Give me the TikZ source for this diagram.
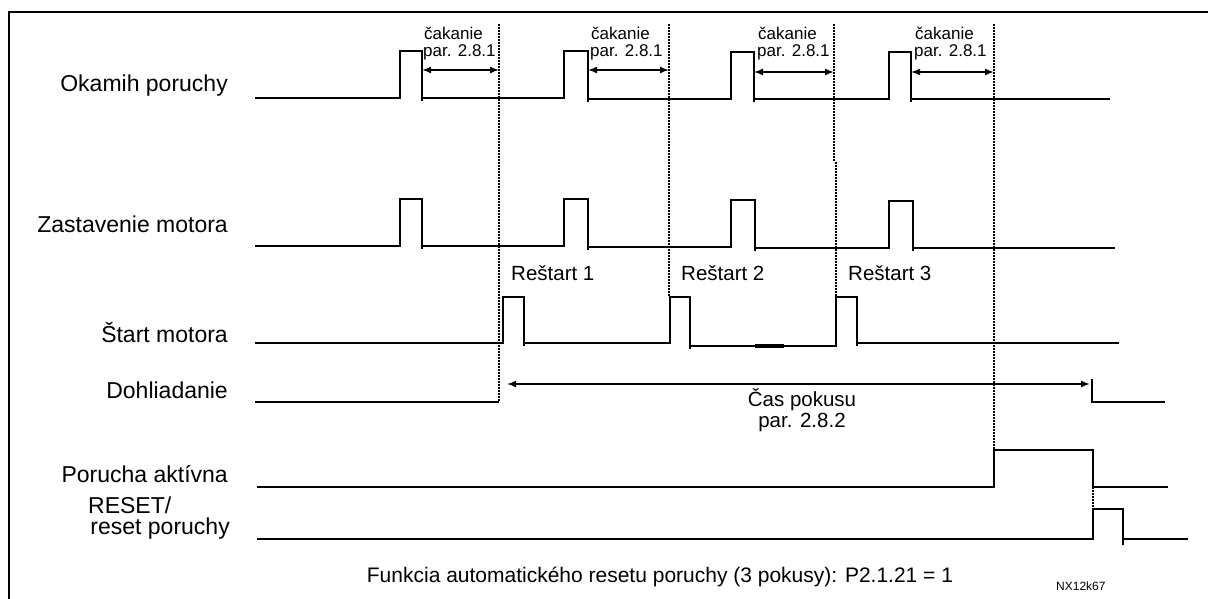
\documentclass[tikz,border=0pt]{standalone}
\usepackage{fontspec}
\setmainfont{Liberation Sans}
\usetikzlibrary{arrows.meta}
\begin{document}
\begin{tikzpicture}[x=1pt,y=-1pt,
  sig/.style={line width=2pt, line join=miter},
  tick/.style={line width=2pt},
  guide/.style={line width=1.3pt, dash pattern=on 2pt off 1pt},
  frame/.style={line width=2.2pt},
  span/.style={line width=1.6pt, {Latex[length=9pt,width=7pt]}-{Latex[length=9pt,width=7pt]}},
  lab/.style={font=\fontsize{23}{24}\selectfont, inner sep=0pt},
  small/.style={font=\fontsize{17}{17}\selectfont, inner sep=0pt},
  mid/.style={font=\fontsize{20.5}{21}\selectfont, inner sep=0pt},
  foot/.style={font=\fontsize{21}{22}\selectfont, inner sep=0pt},
  tiny/.style={font=\fontsize{12}{12}\selectfont, inner sep=0pt}]
\useasboundingbox (0,0) rectangle (1208,599);

% frame
\draw[frame] (1208,12) -- (9,12) -- (9,599);

% labels
\node[lab, anchor=base east] (lOk) at (228,92) {Okamih poruchy};
\node[lab, anchor=base east] (lZa) at (228,232) {Zastavenie motora};
\node[lab, anchor=base east] (lSt) at (228,342) {Štart motora};
\node[lab, anchor=base east] (lDo) at (228,398) {Dohliadanie};
\node[lab, anchor=base east] (lPo) at (228,482) {Porucha aktívna};
\node[lab, anchor=base west] (lRe1) at (88,513) {RESET/};
\node[lab, anchor=base east] (lRe2) at (230,534) {reset poruchy};

% guide lines (dashed)
\coordinate (g1t) at (499,24);  \coordinate (g1b) at (499,402);
\coordinate (g2t) at (669,24);  \coordinate (g2b) at (669,297);
\coordinate (g3t) at (834,24);  \coordinate (g3m) at (834,162);
\coordinate (g3n) at (836,162); \coordinate (g3b) at (836,297);
\coordinate (g4t) at (994,24);  \coordinate (g4b) at (994,450);
\coordinate (g5t) at (1093,487); \coordinate (g5b) at (1093,509);
\draw[guide] (g1t) -- (g1b);
\draw[guide] (g2t) -- (g2b);
\draw[guide] (g3t) -- (g3m);
\draw[guide] (g3n) -- (g3b);
\draw[guide] (g4t) -- (g4b);
\draw[guide] (g5t) -- (g5b);

% Okamih poruchy
\draw[sig] (255,98) -- (400,98) -- (400,51) -- (422,51) -- (422,98)
  -- (564,98) -- (564,51) -- (588,51) -- (588,99)
  -- (731,99) -- (731,52) -- (754,52) -- (754,99)
  -- (889,99) -- (889,52) -- (911,52) -- (911,99) -- (1110,99);
\foreach \x/\y in {422/98,588/99,754/99,911/99} \draw[tick] (\x,\y) -- (\x,\y+3);

% waiting arrows
\coordinate (w1a) at (422,70); \coordinate (w1b) at (499,70);
\coordinate (w2a) at (588,70); \coordinate (w2b) at (669,70);
\coordinate (w3a) at (754,72); \coordinate (w3b) at (834,72);
\coordinate (w4a) at (911,72); \coordinate (w4b) at (994,72);
\draw[span] (w1a) -- (w1b);
\draw[span] (w2a) -- (w2b);
\draw[span] (w3a) -- (w3b);
\draw[span] (w4a) -- (w4b);
\foreach \x/\n in {423/1,590/2,757/3,914/4}{
  \node[small, anchor=base west] (wa\n) at (\x+1,40) {čakanie};
  \node[small, anchor=base west] (wb\n) at (\x,57) {par. 2.8.1};
}

% Zastavenie motora
\draw[sig] (255,246) -- (400,246) -- (400,199) -- (422,199) -- (422,246)
  -- (564,246) -- (564,199) -- (588,199) -- (588,247)
  -- (731,247) -- (731,200) -- (755,200) -- (755,248)
  -- (889,248) -- (889,201) -- (913,201) -- (913,248) -- (1115,248);
\foreach \x/\y in {422/246,588/247,755/248,913/248} \draw[tick] (\x,\y) -- (\x,\y+3);

% Restart labels
\node[mid, anchor=base west] (r1) at (511,280) {Reštart 1};
\node[mid, anchor=base west] (r2) at (681,280) {Reštart 2};
\node[mid, anchor=base west] (r3) at (848,280) {Reštart 3};

% Start motora
\draw[sig] (255,343) -- (503,343) -- (503,297) -- (524,297) -- (524,343)
  -- (670,343) -- (670,297) -- (690,297) -- (690,346)
  -- (836,346) -- (836,297) -- (857,297) -- (857,343) -- (1119,343);
\foreach \x/\y in {524/343,690/346,857/343} \draw[tick] (\x,\y) -- (\x,\y+3);
\draw[line width=3.6pt] (755,346) -- (784,346);

% Dohliadanie
\draw[sig] (255,402) -- (499,402);
\coordinate (c1) at (507,384); \coordinate (c2) at (1090,384);
\draw[span] (c1) -- (c2);
\draw[sig] (1092,379) -- (1092,402) -- (1165,402);
\node[mid, anchor=base] (cas1) at (802,406) {Čas pokusu};
\node[mid, anchor=base] (cas2) at (802,427) {par. 2.8.2};

% Porucha aktivna
\draw[sig] (257,487) -- (994,487) -- (994,450) -- (1093,450) -- (1093,487) -- (1168,487);

% RESET
\draw[sig] (257,539) -- (1093,539) -- (1093,509) -- (1123,509) -- (1123,539) -- (1188,539);
\draw[tick] (1123,539) -- (1123,545);

% footer
\node[foot, anchor=base] (ft) at (660,582) {Funkcia automatického resetu poruchy (3 pokusy): P2.1.21 = 1};
\node[tiny, anchor=base west] (nx) at (1056,590) {NX12k67};
\end{tikzpicture}
\end{document}
